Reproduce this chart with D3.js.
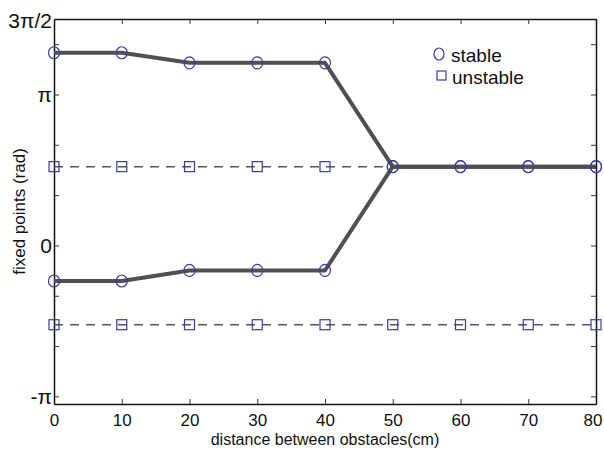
<!DOCTYPE html>
<html>
<head>
<meta charset="utf-8">
<script src="https://cdn.jsdelivr.net/npm/d3@7"></script>
<style>
  body { margin: 0; background: #fff; }
  text { font-family: "Liberation Sans", Arial, sans-serif; fill: #111; }
</style>
</head>
<body>
<div id="chart"></div>
<script>
// distances (cm)
const distances = [0, 10, 20, 30, 40, 50, 60, 70, 80];
// stable fixed points (rad), upper and lower branch
const stableUpper = [4.01, 4.01, 3.80, 3.80, 3.80, 1.64, 1.64, 1.64, 1.64];
const stableLower = [-0.74, -0.74, -0.52, -0.52, -0.52, 1.64, 1.64, 1.64, 1.64];
// unstable fixed points (rad)
const unstableUpperX = [0, 10, 20, 30, 40];
const unstableUpper = [1.64, 1.64, 1.64, 1.64, 1.64];
const unstableLower = [-1.65, -1.65, -1.65, -1.65, -1.65, -1.65, -1.65, -1.65, -1.65];

const xTicks = [0, 10, 20, 30, 40, 50, 60, 70, 80];
const yTicks = [-3, -2, -1, 0, 1, 2, 3, 4].map(k => k * Math.PI / 3);
const yLabels = [
  { v: -Math.PI, t: "-π" },
  { v: 0, t: "0" },
  { v: Math.PI, t: "π" },
  { v: 3 * Math.PI / 2, t: "3π/2" }
];

const W = 604, H = 453;
const m = { left: 54, right: 8, top: 19, bottom: 49 };

const svg = d3.select("#chart").append("svg")
  .attr("width", W).attr("height", H);

const x = d3.scaleLinear().domain([0, 80]).range([m.left, W - m.right]);
const y = d3.scaleLinear().domain([-3.3, 3 * Math.PI / 2]).range([H - m.bottom, m.top]);

// axes, ticks pointing inward
svg.append("g").attr("transform", `translate(0,${H - m.bottom})`)
  .call(d3.axisBottom(x).tickValues(xTicks).tickSizeInner(-5).tickSizeOuter(0).tickPadding(7))
  .call(g => g.selectAll("text").attr("font-size", 17).attr("dy", "0.9em"))
  .call(g => g.selectAll(".tick:last-of-type text").attr("text-anchor", "end").attr("dx", "6"));
svg.append("g").attr("transform", `translate(0,${m.top})`)
  .call(d3.axisTop(x).tickValues(xTicks).tickSizeInner(-5).tickSizeOuter(0).tickFormat(""));
svg.append("g").attr("transform", `translate(${m.left},0)`)
  .call(d3.axisLeft(y).tickValues(yTicks).tickSizeInner(-5).tickSizeOuter(0).tickFormat(""));
svg.append("g").attr("transform", `translate(${W - m.right},0)`)
  .call(d3.axisRight(y).tickValues(yTicks).tickSizeInner(-5).tickSizeOuter(0).tickFormat(""));

svg.selectAll(".domain").attr("stroke", "#111").attr("stroke-width", 1.5);
svg.selectAll(".tick line").attr("stroke", "#333");

// y tick labels
svg.selectAll(".ylab").data(yLabels).enter().append("text")
  .attr("class", "ylab")
  .attr("x", m.left - 2)
  .attr("y", d => y(d.v) + (d.t === "3π/2" ? 2 : 0))
  .attr("dy", "0.35em")
  .attr("text-anchor", "end")
  .attr("font-size", 21)
  .text(d => d.t);

// dashed unstable lines
const line = d3.line().x(d => x(d[0])).y(d => y(d[1]));
svg.append("path")
  .datum(unstableUpperX.map((d, i) => [d, unstableUpper[i]]).concat([[50, 1.64]]))
  .attr("d", line).attr("fill", "none").attr("stroke", "#555")
  .attr("stroke-width", 1.5).attr("stroke-dasharray", "9,7");
svg.append("path")
  .datum(distances.map((d, i) => [d, unstableLower[i]]))
  .attr("d", line).attr("fill", "none").attr("stroke", "#555")
  .attr("stroke-width", 1.5).attr("stroke-dasharray", "9,7");

// stable lines
[stableUpper, stableLower].forEach(s => {
  svg.append("path")
    .datum(distances.map((d, i) => [d, s[i]]))
    .attr("d", line).attr("fill", "none").attr("stroke", "#505050")
    .attr("stroke-width", 4).attr("stroke-linejoin", "round");
});

// markers
const blue = "#3a3aa8";
const sq = 10;
svg.selectAll(".squ").data(unstableUpperX.map((d, i) => [d, unstableUpper[i]])
  .concat(distances.map((d, i) => [d, unstableLower[i]])))
  .enter().append("rect")
  .attr("x", d => x(d[0]) - sq / 2).attr("y", d => y(d[1]) - sq / 2)
  .attr("width", sq).attr("height", sq)
  .attr("fill", "none").attr("stroke", blue).attr("stroke-width", 1.2);

svg.selectAll(".circ").data(distances.map((d, i) => [d, stableUpper[i]])
  .concat(distances.map((d, i) => [d, stableLower[i]])))
  .enter().append("ellipse")
  .attr("cx", d => x(d[0])).attr("cy", d => y(d[1]))
  .attr("rx", 5.5).attr("ry", 6)
  .attr("fill", "none").attr("stroke", blue).attr("stroke-width", 1.2);

// legend
const lg = svg.append("g");
lg.append("ellipse").attr("cx", 439).attr("cy", 54).attr("rx", 5).attr("ry", 6)
  .attr("fill", "none").attr("stroke", blue).attr("stroke-width", 1.2);
lg.append("text").attr("x", 451).attr("y", 62).attr("font-size", 19).text("stable");
lg.append("rect").attr("x", 437).attr("y", 71).attr("width", 9).attr("height", 9)
  .attr("fill", "none").attr("stroke", blue).attr("stroke-width", 1.2);
lg.append("text").attr("x", 452).attr("y", 84).attr("font-size", 19).text("unstable");

// axis titles
svg.append("text")
  .attr("x", (m.left + W - m.right) / 2).attr("y", 445)
  .attr("text-anchor", "middle").attr("font-size", 16)
  .text("distance between obstacles(cm)");
svg.append("text")
  .attr("transform", `translate(25,${(m.top + H - m.bottom) / 2}) rotate(-90)`)
  .attr("text-anchor", "middle").attr("font-size", 17)
  .text("fixed points (rad)");
</script>
</body>
</html>
